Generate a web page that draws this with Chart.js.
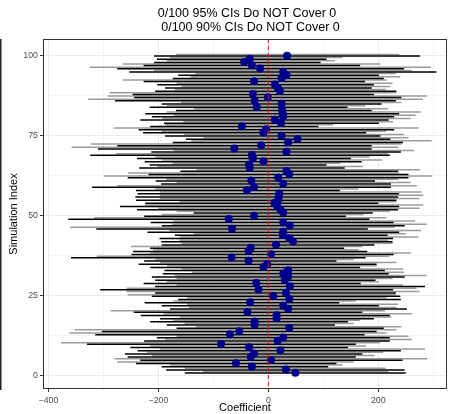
<!DOCTYPE html>
<html>
<head>
<meta charset="utf-8">
<title>Simulation CIs</title>
<script src="https://cdn.jsdelivr.net/npm/chart.js@4.4.1/dist/chart.umd.min.js"></script>
<style>
  body { margin: 0; background: #fff; }
  #wrap { width: 452px; height: 414px; }
</style>
</head>
<body>
<div id="wrap"><canvas id="myChart" width="452" height="414"></canvas></div>
<script>
// Title and axis text
var titleLines = ['0/100 95% CIs Do NOT Cover 0', '0/100 90% CIs Do NOT Cover 0'];
var xTitle = 'Coefficient';
var yTitle = 'Simulation Index';

// Point estimate for each simulation (simulation 1 first)
var estimates = [
  49, 32, -30, -59, 5, -32, -26, 22, -35, -86,
  17, 27, -70, -53, 38, -25, -25, 15, 15, -38,
  36, 27, -33, 38, 9, 32, -18, 39, -22, 30,
  36, 27, 36, -9, -2, -36, -67, 5, -36, -32,
  14, 45, 38, 26, 27, -66, 39, 27, -72, -26,
  27, 22, 16, 11, 18, 19, 20, -39, -26, 27,
  -31, 18, 38, 33, -34, -35, -9, -28, -30, 33,
  -62, -13, 36, 53, 24, -9, -4, -48, 23, 12,
  27, 26, 25, -21, 24, -25, -1, -28, 21, 17,
  12, -26, 24, 33, 27, -15, -30, -44, -34, 34
];

// 95% interval bounds
var lower95 = [
  -152, -186, -194, -241, -233, -256, -261, -238, -251, -330,
  -226, -203, -315, -303, -167, -185, -215, -197, -232, -245,
  -179, -194, -225, -164, -212, -206, -306, -206, -227, -206,
  -212, -192, -189, -215, -236, -226, -359, -249, -246, -215,
  -194, -195, -198, -170, -220, -313, -194, -214, -364, -226,
  -136, -239, -270, -224, -241, -242, -238, -241, -321, -195,
  -205, -256, -218, -160, -235, -216, -225, -239, -324, -213,
  -310, -275, -174, -150, -188, -228, -236, -215, -190, -233,
  -212, -224, -168, -216, -194, -279, -244, -247, -206, -188,
  -202, -227, -174, -164, -253, -275, -227, -208, -203, -208
];
var upper95 = [
  250, 248, 109, 124, 244, 159, 171, 241, 145, 159,
  221, 221, 175, 197, 210, 121, 145, 192, 221, 171,
  252, 201, 129, 241, 240, 232, 227, 285, 168, 195,
  248, 219, 212, 167, 197, 124, 177, 228, 180, 138,
  193, 226, 227, 217, 238, 181, 248, 228, 184, 141,
  190, 236, 238, 200, 233, 236, 238, 130, 223, 223,
  194, 255, 255, 236, 139, 106, 170, 150, 221, 241,
  188, 188, 245, 222, 204, 178, 229, 91, 201, 219,
  229, 238, 188, 144, 206, 232, 242, 192, 233, 188,
  192, 176, 210, 201, 306, 247, 167, 95, 106, 276
];

// 90% interval bounds
var lower90 = [
  -119, -152, -179, -275, -280, -212, -221, -197, -215, -377,
  -188, -167, -362, -352, -132, -152, -173, -161, -191, -287,
  -145, -148, -173, -148, -256, -258, -258, -167, -185, -167,
  -170, -139, -158, -184, -197, -206, -312, -215, -210, -250,
  -158, -162, -161, -136, -180, -361, -175, -173, -317, -194,
  -167, -200, -224, -162, -197, -197, -197, -206, -275, -167,
  -186, -299, -255, -131, -202, -174, -194, -206, -277, -173,
  -358, -323, -140, -118, -153, -194, -281, -188, -155, -193,
  -172, -185, -136, -185, -159, -328, -292, -289, -170, -158,
  -167, -265, -142, -133, -208, -325, -265, -185, -179, -168
];
var upper90 = [
  218, 213, 135, 155, 289, 193, 209, 285, 178, 203,
  261, 255, 215, 233, 242, 155, 167, 224, 261, 212,
  233, 236, 159, 215, 232, 275, 270, 245, 201, 226,
  288, 247, 245, 197, 233, 155, 220, 259, 164, 171,
  226, 218, 273, 250, 278, 230, 288, 267, 215, 173,
  221, 275, 282, 233, 275, 282, 279, 164, 270, 259,
  236, 298, 238, 276, 172, 131, 207, 184, 218, 265,
  236, 242, 297, 255, 247, 214, 273, 118, 227, 259,
  268, 277, 218, 176, 242, 281, 289, 233, 214, 221,
  226, 215, 240, 232, 261, 296, 204, 121, 135, 238
];

// Axis ticks
var xMajor = [-400, -200, 0, 200];
var xMinor = [-300, -100, 100, 300];
var yMajor = [0, 25, 50, 75, 100];
var yMinor = [12.5, 37.5, 62.5, 87.5];

var fontFamily = '"Liberation Sans", Arial, Helvetica, sans-serif';
Chart.defaults.font.family = fontFamily;

// Turn interval bounds into line segments, broken by null points
function segments(lo, hi, shift) {
  var pts = [];
  for (var i = 0; i < lo.length; i++) {
    pts.push({x: lo[i], y: i + 1 + shift});
    pts.push({x: hi[i], y: i + 1 + shift});
    pts.push({x: null, y: null});
  }
  return pts;
}

function tickList(major, minor) {
  return major.concat(minor).sort(function(a, b) { return a - b; }).map(function(v) {
    return {value: v};
  });
}

function isMajor(list, ctx) {
  return ctx.tick && list.indexOf(ctx.tick.value) >= 0;
}

function formatNum(v) {
  return v < 0 ? '\u2212' + Math.abs(v) : String(v);
}

// Draws the zero line, panel border and the text around the panel
var decorations = {
  id: 'decorations',
  afterDatasetsDraw: function(chart) {
    var ctx = chart.ctx;
    var area = chart.chartArea;
    var x0 = chart.scales.x.getPixelForValue(0);

    ctx.save();
    ctx.strokeStyle = '#ff0000';
    ctx.lineWidth = 1;
    ctx.setLineDash([4, 3]);
    ctx.beginPath();
    ctx.moveTo(x0, area.top);
    ctx.lineTo(x0, area.bottom);
    ctx.stroke();
    ctx.restore();
  },
  afterDraw: function(chart) {
    var ctx = chart.ctx;
    var area = chart.chartArea;
    var mid = (area.left + area.right) / 2;

    ctx.save();
    // panel border
    ctx.strokeStyle = '#333333';
    ctx.lineWidth = 1;
    ctx.strokeRect(area.left + 0.5, area.top + 0.5, area.right - area.left - 1, area.bottom - area.top - 1);

    // bar along the left edge
    ctx.fillStyle = '#222222';
    ctx.fillRect(0, area.top, 1.5, area.bottom - area.top + 1);

    // title
    ctx.fillStyle = '#000000';
    ctx.textAlign = 'center';
    ctx.textBaseline = 'middle';
    ctx.font = '12.5px ' + fontFamily;
    ctx.fillText(titleLines[0], mid + 2, 13.5);
    ctx.fillText(titleLines[1], mid + 5.5, 27.5);

    // axis titles
    ctx.font = '11px ' + fontFamily;
    ctx.fillText(xTitle, mid, 407.5);
    ctx.translate(14, (area.top + area.bottom) / 2);
    ctx.rotate(-Math.PI / 2);
    ctx.fillText(yTitle, 0, 0);
    ctx.restore();
  }
};

var ctx = document.getElementById('myChart').getContext('2d');

var myChart = new Chart(ctx, {
  type: 'scatter',
  data: {
    datasets: [
      {
        label: 'Estimate',
        data: estimates.map(function(v, i) { return {x: v, y: i + 1}; }),
        backgroundColor: '#00008b',
        borderWidth: 0,
        pointRadius: 4,
        pointHoverRadius: 4
      },
      {
        label: '95% CI',
        data: segments(lower95, upper95, -0.1),
        showLine: true,
        spanGaps: false,
        borderColor: '#000000',
        borderWidth: 1.5,
        borderCapStyle: 'butt',
        pointRadius: 0
      },
      {
        label: '90% CI',
        data: segments(lower90, upper90, 0.4),
        showLine: true,
        spanGaps: false,
        borderColor: '#9a9a9a',
        borderWidth: 1.5,
        borderCapStyle: 'butt',
        pointRadius: 0
      }
    ]
  },
  options: {
    responsive: false,
    animation: false,
    layout: { padding: { top: 39, right: 5, bottom: 0, left: 0 } },
    plugins: {
      legend: { display: false },
      tooltip: { enabled: false }
    },
    scales: {
      x: {
        type: 'linear',
        bounds: 'data',
        min: -410,
        max: 325,
        afterBuildTicks: function(scale) { scale.ticks = tickList(xMajor, xMinor); },
        afterFit: function(scale) { scale.height = 25; },
        border: { display: false },
        grid: {
          color: '#ebebeb',
          lineWidth: function(c) { return isMajor(xMajor, c) ? 1 : 0.5; },
          tickColor: function(c) { return isMajor(xMajor, c) ? '#333333' : 'rgba(0,0,0,0)'; },
          tickLength: 3,
          tickWidth: 1
        },
        ticks: {
          autoSkip: false,
          maxRotation: 0,
          padding: 3,
          color: '#4d4d4d',
          font: { size: 8.8 },
          callback: function(v) { return xMajor.indexOf(v) >= 0 ? formatNum(v) : ''; }
        }
      },
      y: {
        type: 'linear',
        bounds: 'data',
        min: -4.06,
        max: 105.2,
        afterBuildTicks: function(scale) { scale.ticks = tickList(yMajor, yMinor); },
        afterFit: function(scale) { scale.width = 43; },
        border: { display: false },
        grid: {
          color: '#ebebeb',
          lineWidth: function(c) { return isMajor(yMajor, c) ? 1 : 0.5; },
          tickColor: function(c) { return isMajor(yMajor, c) ? '#333333' : 'rgba(0,0,0,0)'; },
          tickLength: 3,
          tickWidth: 1
        },
        ticks: {
          autoSkip: false,
          padding: 2,
          color: '#4d4d4d',
          font: { size: 8.8 },
          callback: function(v) { return yMajor.indexOf(v) >= 0 ? formatNum(v) : ''; }
        }
      }
    }
  },
  plugins: [decorations]
});
</script>
</body>
</html>
